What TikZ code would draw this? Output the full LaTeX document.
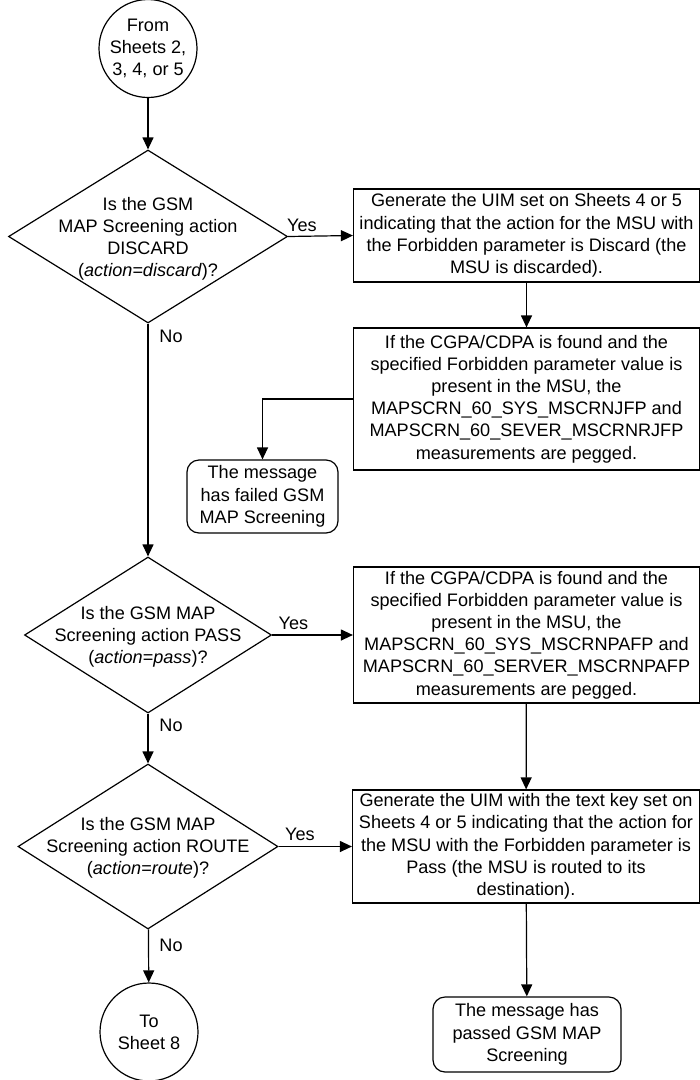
\documentclass[tikz,border=0pt]{standalone}
\usepackage{fontspec}
\setmainfont{Liberation Sans}
\usetikzlibrary{shapes.geometric,arrows.meta}
\begin{document}
\begin{tikzpicture}[x=1pt,y=-1pt,
  every node/.style={font=\fontsize{18.1}{22.2}\selectfont},
  conn/.style={line width=1.2pt,-{Triangle[length=12pt,width=11pt]}},
  plain/.style={line width=1.2pt},
  procbox/.style={draw,line width=1.2pt,rectangle,align=center,inner sep=0pt},
  termbox/.style={draw,line width=1.2pt,rectangle,rounded corners=12pt,align=center,inner sep=0pt},
  connector/.style={draw,line width=1.2pt,circle,align=center,inner sep=0pt,minimum size=98pt},
  decision/.style={draw,line width=1.2pt,diamond,inner sep=0pt},
  dtext/.style={align=center,inner sep=0pt},
  lbl/.style={inner sep=0pt}
]
\useasboundingbox (0,0) rectangle (700,1080);

% connectors (circles)
\node[connector] (from) at (148,48.5) {From\\Sheets 2,\\3, 4, or 5};
\node[connector] (to) at (149,1032) {To\\Sheet 8};

% decisions
\node[decision,minimum width=279pt,minimum height=173pt] (d1) at (148,236.5) {};
\node[dtext] (d1t) at (148,239) {Is the GSM\\MAP Screening action\\DISCARD\\(\textit{action=discard})?};

\node[decision,minimum width=247pt,minimum height=156pt] (d2) at (148,635) {};
\node[dtext] (d2t) at (148,637) {Is the GSM MAP\\Screening action PASS\\(\textit{action=pass})?};

\node[decision,minimum width=260pt,minimum height=165pt] (d3) at (148,846.5) {};
\node[dtext] (d3t) at (148,848) {Is the GSM MAP\\Screening action ROUTE\\(\textit{action=route})?};

% process boxes
\node[procbox,minimum width=346pt,minimum height=93pt] (b1) at (526.5,235.5)
  {Generate the UIM set on Sheets 4 or 5\\indicating that the action for the MSU with\\the Forbidden parameter is Discard (the\\MSU is discarded).};
\node[procbox,minimum width=346pt,minimum height=142pt] (b2) at (526.5,399)
  {If the CGPA/CDPA is found and the\\specified Forbidden parameter value is\\present in the MSU, the\\MAPSCRN\_60\_SYS\_MSCRNJFP and\\MAPSCRN\_60\_SEVER\_MSCRNRJFP\\measurements are pegged.};
\node[procbox,minimum width=346pt,minimum height=136pt] (b3) at (526.5,635)
  {If the CGPA/CDPA is found and the\\specified Forbidden parameter value is\\present in the MSU, the\\MAPSCRN\_60\_SYS\_MSCRNPAFP and\\MAPSCRN\_60\_SERVER\_MSCRNPAFP\\measurements are pegged.};
\node[procbox,minimum width=347pt,minimum height=113pt] (b4) at (526,846.5)
  {Generate the UIM with the text key set on\\Sheets 4 or 5 indicating that the action for\\the MSU with the Forbidden parameter is\\Pass (the MSU is routed to its\\destination).};

% terminal boxes
\node[termbox,minimum width=151pt,minimum height=73pt] (fail) at (262.5,496.5)
  {The message\\has failed GSM\\MAP Screening};
\node[termbox,minimum width=188pt,minimum height=75pt] (pass) at (527,1034.5)
  {The message has\\passed GSM MAP\\Screening};

% main flow
\draw[conn] (from) -- (d1);
\draw[conn] (d1) -- (d2);
\draw[conn] (d2) -- (d3);
\draw[conn] (d3) -- (to);

% yes branches
\draw[conn] (d1.east) -- (b1.west);
\draw[conn] (d2.east) -- (b3.west);
\draw[conn] (d3.east) -- (b4.west);

% right column
\draw[conn] (b1) -- (b2);
\draw[conn] (b2.west) -| (fail.north);
\draw[conn] (b3) -- (b4);
\draw[conn] (b4) -- (pass);

% labels
\node[lbl] (y1) at (302,225) {Yes};
\node[lbl] (y2) at (293.5,623) {Yes};
\node[lbl] (y3) at (300,834) {Yes};
\node[lbl] (n1) at (171,336) {No};
\node[lbl] (n2) at (171,725) {No};
\node[lbl] (n3) at (171,945) {No};
\end{tikzpicture}
\end{document}
